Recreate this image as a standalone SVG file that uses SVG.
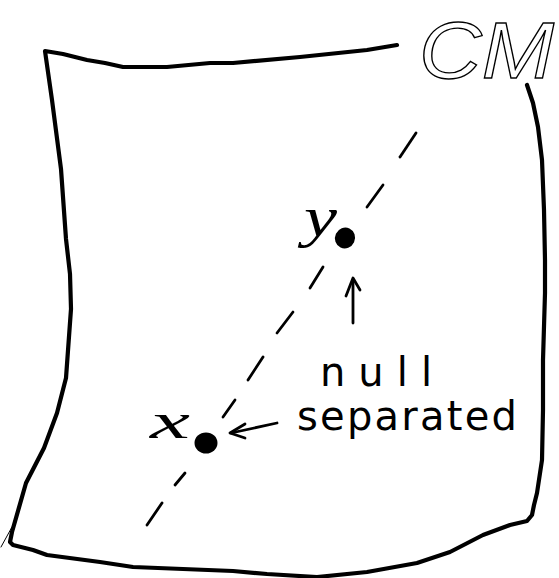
<svg xmlns="http://www.w3.org/2000/svg" width="559" height="578" viewBox="0 0 559 578">
  <style>
    .pen { fill: none; stroke: #000; stroke-linecap: round; stroke-linejoin: round; }
    .frame { stroke-width: 4.2; }
    .dash { stroke-width: 2.8; }
    .arrow { stroke-width: 2.8; }
    .hand { font-family: "DejaVu Sans", "Liberation Sans", sans-serif; font-size: 40px; fill: #000; }
    .math { font-family: "Liberation Serif", "DejaVu Serif", serif; font-style: italic; fill: #000; }
  </style>
  <rect width="559" height="578" fill="#fff"/>

  <g id="frame">
    <path class="pen frame" d="M397,45 L367,50 L300,57 L233,63 L210,63 L167,67 L123,67 L105,63 L87,60 L63,54 L45,51 L52,100 L61,169 L66,239 L70,274 L71,309 L66,378 L57,413 L44,448 L26,483 L12,532 L10,542 L13,545 L33,550 L47,555 L100,562 L133,567 L183,569 L233,571 L267,574 L317,577 L367,572 L417,563 L450,552 L483,535 L510,525 L527,521 L532,515 L534,505 L537,493 L542,460 L543,410 L543,360 L545,293 L545,260 L544,210 L542,160 L538,127 L533,103 L527,85"/>
    <path class="pen" stroke-width="1" d="M12,527 L1,547"/>
  </g>

  <g id="label-CM">
    <text x="419" y="78" textLength="135" lengthAdjust="spacingAndGlyphs" font-family="Liberation Sans, Arial, sans-serif" font-style="italic" font-size="80" fill="none" stroke="#000" stroke-width="1.3">CM</text>
  </g>

  <g id="worldline">
    <path class="pen dash" d="M147,525 L162,503"/>
    <path class="pen dash" d="M175,485 L185,473"/>
    <path class="pen dash" d="M223,417 L235,400"/>
    <path class="pen dash" d="M248,380 L263,357"/>
    <path class="pen dash" d="M277,333 L293,312"/>
    <path class="pen dash" d="M310,288 L323,267"/>
    <path class="pen dash" d="M367,207 L383,185"/>
    <path class="pen dash" d="M400,157 L416,133"/>
  </g>

  <g id="node-y">
    <ellipse cx="345" cy="238" rx="10" ry="10.5" transform="rotate(25 345 238)" fill="#000"/>
    <text class="math" x="304" y="236" font-size="58" textLength="33" lengthAdjust="spacingAndGlyphs">y</text>
  </g>

  <g id="node-x">
    <ellipse cx="206" cy="443" rx="11.5" ry="10.5" fill="#000"/>
    <text class="math" x="150" y="438" font-size="50" textLength="40" lengthAdjust="spacingAndGlyphs">x</text>
  </g>

  <g id="connectors">
    <path class="pen arrow" d="M353,323 L353,280"/>
    <path class="pen arrow" d="M346,296 L353,278 L360,290"/>
    <path class="pen arrow" d="M277,423 L231,433"/>
    <path class="pen arrow" d="M245,424 L230,433 L245,438"/>
  </g>

  <g id="label-null-separated">
    <text class="hand" x="320" y="386" font-size="44" textLength="112">null</text>
    <text class="hand" x="297" y="430" textLength="220">separated</text>
  </g>
</svg>
